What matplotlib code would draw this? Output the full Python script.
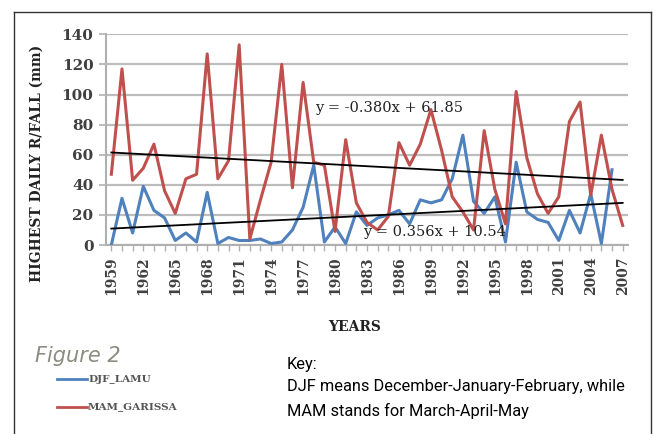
import numpy as np
import matplotlib.pyplot as plt
from matplotlib.lines import Line2D
from matplotlib.ticker import MultipleLocator

# Daten
years = list(range(1959, 2008))
djf_lamu = [0, 31, 8, 39, 23, 18, 3, 8, 2, 35, 1, 5, 3, 3, 4, 1, 2, 10,
            25, 53, 2, 12, 1, 22, 13, 18, 20, 23, 14, 30, 28, 30, 44, 73,
            29, 21, 32, 2, 55, 22, 17, 15, 3, 23, 8, 34, 1, 50, np.nan]
mam_garissa = [47, 117, 43, 51, 67, 36, 21, 44, 47, 127, 44, 56, 133, 4,
               30, 55, 120, 38, 108, 55, 53, 9, 70, 28, 15, 10, 19, 68, 53,
               67, 90, 63, 32, 22, 10, 76, 37, 14, 102, 58, 34, 21, 32, 82,
               95, 33, 73, 37, 13]
trend_mam = (-0.380, 61.85)
trend_djf = (0.356, 10.54)
eq_mam = "y = -0.380x + 61.85"
eq_djf = "y = 0.356x + 10.54"

blue = '#4F81BD'
red = '#C0504D'
grey = '#404040'

fig = plt.figure(figsize=(6.53, 4.34), dpi=100)
ax = fig.add_axes([106/653, 1-245/434, 522/653, (245-34.3)/434])

idx = np.arange(1, len(years) + 1)
ax.plot(years, djf_lamu, color=blue, lw=2.2, zorder=3)
ax.plot(years, mam_garissa, color=red, lw=2.2, zorder=3)
ax.plot(years, trend_mam[0]*idx + trend_mam[1], color='black', lw=1.3, zorder=4)
ax.plot(years, trend_djf[0]*idx + trend_djf[1], color='black', lw=1.3, zorder=4)

ax.text(1978.1, 90.7, eq_mam, family='DejaVu Serif', fontsize=10.5,
        color='#222222', va='center', ha='left', zorder=5)
ax.text(1982.6, 8.7, eq_djf, family='DejaVu Serif', fontsize=10.5,
        color='#222222', va='center', ha='left', zorder=5)

ax.set_xlim(1958.5, 2007.5)
ax.set_ylim(0, 140)
ax.set_yticks(range(0, 141, 20))
ax.set_xticks(years[::3])
ax.xaxis.set_minor_locator(MultipleLocator(1))
ax.grid(axis='y', color='#bdbdbd', lw=1.6, zorder=0)
for s in ['top', 'right']:
    ax.spines[s].set_visible(False)
ax.spines['left'].set_color('#b0b0b0')
ax.spines['bottom'].set_color('#b0b0b0')
ax.spines['left'].set_linewidth(1.5)
ax.spines['bottom'].set_linewidth(1.5)
ax.tick_params(axis='y', length=5, width=1.2, color='#b0b0b0', pad=4)
ax.tick_params(axis='x', which='both', length=4, width=1, color='#b0b0b0', pad=4)
for lab in ax.get_yticklabels():
    lab.set_family('DejaVu Serif'); lab.set_fontweight('bold'); lab.set_fontsize(11); lab.set_color(grey)
for lab in ax.get_xticklabels():
    lab.set_family('DejaVu Serif'); lab.set_fontweight('bold'); lab.set_fontsize(10)
    lab.set_color(grey); lab.set_rotation(90)

fig.text(37/653, 1-163/434, "HIGHEST DAILY R/FALL (mm)", rotation=90,
         family='DejaVu Serif', fontweight='bold', fontsize=10,
         ha='center', va='center', color='#222222')
fig.text(355/653, 1-327/434, "YEARS", family='DejaVu Serif',
         fontweight='bold', fontsize=10, ha='center', va='center', color='#222222')

# Figure label und Legende
fig.text(35/653, 1-356/434, "Figure 2", family='DejaVu Sans', style='italic',
         fontsize=15, color='#8c8c82', ha='left', va='center')
for y, c, name in [(379, blue, "DJF_LAMU"), (407, red, "MAM_GARISSA")]:
    fig.add_artist(Line2D([57/653, 87/653], [1-y/434]*2, color=c, lw=2))
    fig.text(88/653, 1-y/434, name, family='DejaVu Serif', fontweight='bold',
             fontsize=7.5, color='#555555', ha='left', va='center')

key_font = ['Roboto', 'DejaVu Sans']
fig.text(287/653, 1-365/434, "Key:", family=key_font, fontsize=11.8, ha='left', va='center')
fig.text(287/653, 1-387/434, "DJF means December-January-February, while",
         family=key_font, fontsize=11.8, ha='left', va='center')
fig.text(287/653, 1-411/434, "MAM stands for March-April-May",
         family=key_font, fontsize=11.8, ha='left', va='center')

# Rahmen
frame_kw = dict(color='#333333', lw=1)
fig.add_artist(Line2D([14/653, 14/653], [0, 1-12/434], **frame_kw))
fig.add_artist(Line2D([14/653, 651/653], [1-12/434]*2, **frame_kw))
fig.add_artist(Line2D([651/653, 651/653], [0, 1-12/434], **frame_kw))

plt.savefig("out.png", dpi=100)
